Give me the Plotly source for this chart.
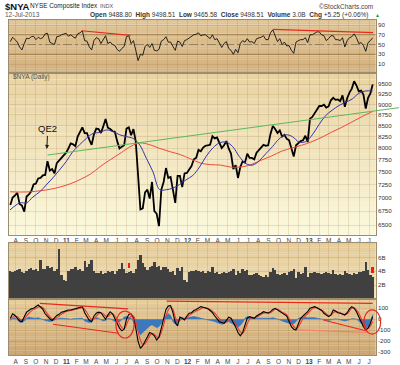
import numpy as np
import pandas as pd
import plotly.graph_objects as go

W, H = 400, 365

# ---------------- data (weekly samples) ----------------
weeks = pd.date_range('2010-07-16', '2013-07-12', freq='W-FRI')

close = [
    6860, 7000, 7040, 7090, 6880, 6850, 6740, 7020, 7060, 7120, 7250, 7270, 7370, 7380, 7430, 7440,
    7720, 7530, 7560, 7470, 7680, 7740, 7800, 7850, 7900,
    7990, 8100, 8080, 8040, 8250, 8350, 8460, 8330, 8330, 8180, 8070, 8300, 8430, 8420, 8330, 8480, 8650,
    8450, 8420, 8370, 8360, 8150, 7990, 8030, 8060, 8430, 8460, 8280, 8420, 8140, 7350, 6780, 6800, 7100,
    7150, 6980, 7300, 6750, 6700, 6480, 7150, 7300, 7580, 7380, 7400, 7120, 6900, 7420, 7420, 7200, 7470, 7480,
    7560, 7620, 7760, 7790, 7960, 7930, 8010, 8050, 8060, 8070, 8260, 8210, 8230, 8120, 8000, 8060, 8150,
    7990, 7880, 7560, 7640, 7380, 7600, 7720, 7690, 7880, 7790, 7790, 7760, 7900, 7960, 8010, 8070, 8050, 8060,
    8310, 8490, 8420, 8330, 8390, 8250, 8290, 8200, 8170, 7960, 7820, 8060, 8110, 8150, 8170, 8270, 8130,
    8660, 8700, 8790, 8880, 8960, 8960, 8990, 8920, 8950, 9100, 9160, 9110, 9120, 9080, 9220, 8940, 9150,
    9290, 9390, 9580, 9470, 9320, 9340, 9240, 8900, 9160, 9270, 9498.51,
]

ma50_dates = ['2010-07-15', '2010-08-14', '2010-09-03', '2010-09-22', '2010-10-13', '2010-11-01', '2010-11-21',
              '2010-12-11', '2010-12-31', '2011-01-20', '2011-02-09', '2011-03-02', '2011-03-22', '2011-04-12',
              '2011-05-02', '2011-05-22', '2011-06-11', '2011-07-01', '2011-07-21', '2011-08-10', '2011-08-30',
              '2011-09-19', '2011-10-09', '2011-10-29', '2011-11-18', '2011-12-08', '2011-12-28', '2012-01-17',
              '2012-02-06', '2012-02-26', '2012-03-17', '2012-04-06', '2012-04-26', '2012-05-16', '2012-06-05',
              '2012-06-25', '2012-07-15', '2012-08-04', '2012-08-24', '2012-09-13', '2012-10-03', '2012-10-23',
              '2012-11-12', '2012-12-02', '2012-12-22', '2013-01-11', '2013-01-31', '2013-02-20', '2013-03-12',
              '2013-04-01', '2013-04-21', '2013-05-11', '2013-05-31', '2013-06-20', '2013-07-12']
ma50 = [6770, 6900, 6900, 7010, 7110, 7240, 7380, 7540, 7710, 7920, 8065, 8210, 8320, 8345, 8400, 8360,
        8290, 8250, 8210, 8065, 7780, 7500, 7150, 7150, 7180, 7250, 7345, 7430, 7600, 7820, 8000, 8110,
        8130, 8030, 7820, 7670, 7640, 7730, 7880, 8030, 8200, 8290, 8250, 8130, 8140, 8290, 8520, 8730,
        8860, 8970, 9050, 9130, 9270, 9330, 9330]

ma200_dates = ['2010-07-15', '2010-08-15', '2010-09-15', '2010-10-15', '2010-11-15', '2010-12-15', '2011-01-15',
               '2011-02-15', '2011-03-15', '2011-04-15', '2011-05-15', '2011-06-15', '2011-07-15', '2011-08-10',
               '2011-09-10', '2011-10-10', '2011-11-10', '2011-12-10', '2012-01-10', '2012-02-10', '2012-03-10',
               '2012-04-10', '2012-05-10', '2012-06-10', '2012-07-10', '2012-08-10', '2012-09-10', '2012-10-10',
               '2012-11-10', '2012-12-10', '2013-01-10', '2013-02-10', '2013-03-10', '2013-04-10', '2013-05-10',
               '2013-06-10', '2013-07-12']
ma200 = [7110, 7105, 7110, 7130, 7160, 7205, 7270, 7360, 7460, 7620, 7760, 7900, 8040, 8110, 8070, 7990,
         7920, 7860, 7770, 7680, 7650, 7640, 7600, 7600, 7650, 7740, 7830, 7930, 8000, 8060, 8140, 8240,
         8350, 8460, 8580, 8710, 8830]

trend_dates = ['2010-11-05', '2013-09-29']
trend_vals = [7850, 8920]

rsi = [
    56, 65, 60, 55, 45, 39, 52, 63, 62, 66, 67, 60, 65, 62, 64, 72, 73, 55, 52, 50, 66, 67, 70, 71, 73,
    67, 70, 66, 63, 72, 74, 78, 58, 57, 45, 39, 58, 64, 62, 52, 60, 68, 52, 55, 50, 48, 40, 36, 42, 46,
    66, 68, 52, 58, 38, 17, 30, 28, 46, 50, 44, 52, 38, 37, 40, 57, 60, 66, 55, 55, 46, 38, 57, 55, 46, 58, 60,
    64, 66, 70, 71, 74, 68, 70, 70, 66, 62, 70, 60, 62, 52, 44, 52, 56, 42, 38, 30, 40, 33, 52, 58, 55,
    62, 55, 56, 52, 62, 63, 65, 68, 60, 60, 74, 80, 66, 56, 62, 50, 55, 47, 48, 38, 32, 55, 58, 60, 60, 64, 54,
    70, 70, 73, 76, 76, 70, 68, 58, 62, 68, 68, 60, 60, 58, 64, 45, 58, 64, 66, 72, 64, 52, 54, 48, 36, 54, 58, 64,
]
rsi_levels = [70, 50, 30]
rsi_trend1_dates = ['2011-02-16', '2011-07-13']
rsi_trend1_vals = [78.3, 68.9]
rsi_trend2_dates = ['2012-09-14', '2013-07-13']
rsi_trend2_vals = [81.2, 74.2]

volume_b = [
    4.1, 3.9, 4.0, 4.2, 4.4, 3.9, 3.8, 4.1, 4.3, 4.5, 4.2, 4.3, 4.0, 5.6, 4.3, 4.4, 4.8, 4.5, 4.6, 4.0,
    4.4, 7.2, 3.4, 2.8, 2.6,
    4.0, 4.3, 4.4, 4.6, 4.2, 4.3, 4.0, 5.5, 4.6, 5.0, 5.6, 4.0, 3.8, 3.8, 4.0, 3.6, 3.7, 4.0, 3.9, 4.1,
    3.6, 4.1, 4.4, 5.2, 4.3, 3.8, 3.9, 4.0, 3.8, 4.3, 5.6, 6.4, 5.2, 4.6, 4.2, 4.6, 4.8, 5.3, 4.7, 4.8,
    4.2, 4.7, 4.6, 4.3, 3.9, 4.0, 3.4, 4.5, 4.0, 4.6, 2.8, 2.5,
    3.9, 4.0, 4.0, 4.2, 4.1, 3.9, 4.0, 3.8, 4.0, 3.9, 4.6, 3.7, 3.9, 3.6, 3.8, 3.9, 3.7, 3.9, 4.0, 4.4,
    3.5, 4.0, 3.7, 4.3, 4.1, 4.2, 3.4, 3.5, 3.6, 3.8, 3.5, 3.3, 3.2, 3.4, 3.2, 3.9, 4.5, 4.2, 3.6, 3.5,
    3.6, 3.8, 3.5, 3.9, 4.1, 4.3, 3.0, 3.9, 3.6, 3.8, 4.6, 3.1,
    3.8, 3.7, 3.9, 3.8, 3.7, 3.6, 3.8, 3.9, 3.8, 3.6, 4.2, 3.6, 3.5, 3.6, 3.5, 4.0, 3.7, 3.6, 3.5, 3.8,
    3.6, 3.9, 3.9, 4.0, 5.3, 4.2, 3.5, 3.2,
]
vol_mark_dates = ['2011-07-08', '2013-07-12']
vol_mark_low = [4.5, 3.75]
vol_mark_high = [5.2, 4.6]

osc = [
    10, 50, 35, 10, -15, -20, 30, 65, 80, 95, 100, 115, 130, 110, 90, 50, 25, 5, -10, 10, 35, 45, 65, 70, 80,
    85, 85, 90, 95, 100, 110, 115, 60, 20, -10, -22, 30, 55, 65, 60, 30, 0, 40, 69, 50, 10, -30, -80, -105,
    -90, 0, 45, 50, 10, -80, -200, -264, -240, -200, -160, -120, -130, -150, -188, -160, -80, 10, 90, 120,
    125, 60, -30, -60, 20, 10, -5, 30,
    55, 60, 80, 90, 100, 115, 110, 105, 95, 80, 60, 30, 0, -22, -30, -36, -10, 20, 10, -25, -70, -120, -150,
    -120, -60, 10, 24, 15, 9, 30, 40, 55, 69, 65, 55, 70, 90, 100, 85, 70, 55, 45, 30, -20, -67, -90, -97,
    -40, 9, 30, 50, 70,
    100, 110, 115, 105, 90, 80, 55, 39, 24, 40, 85, 75, 60, 55, 45, 39, 60, 95, 115, 100, 69, 30, -22, -67,
    -97, -80, -36, 24,
]
osc_signal = [
    0, 20, 30, 25, 5, -10, 0, 30, 55, 75, 90,
    100, 110, 115, 105, 80, 50, 25, 5, 0, 15, 30, 45, 60, 70,
    75, 80, 85, 90, 95, 100, 105, 90, 60, 25, 0, 5,
    30, 50, 60, 50, 30, 25, 45, 50, 30, 0, -40, -75, -85, -50, 0, 30, 30, -20,
    -110, -190, -230, -220, -190, -150, -130, -135, -160, -165, -120, -50,
    30, 85, 110, 90, 20, -20, -10, 5, 5, 15,
    35, 50, 65, 75, 85, 95, 105, 105, 100, 90, 75, 55, 30,
    5, -15, -25, -25, -5, 5, -10, -40, -80, -115, -125, -95,
    -40, 0, 15, 15, 20, 30, 45, 55, 60, 60,
    60, 75, 90, 90, 80, 65, 55, 40, 10, -30, -65, -85, -70,
    -30, 5, 30, 50, 75, 95, 105, 105, 95, 85, 70, 50, 35, 35, 60, 70,
    65, 60, 50, 45, 50, 75, 100, 105, 85, 55, 10, -35, -70, -80, -60, -20,
]
osc_hist = [
    -10, 10, 15, -5, -25, -30, -15, 10, 20, 15, 10, 10, 15, 5, -5, -10, -15, -20, -15, -5, 5, 10, 10, 5, 5,
    5, 0, 5, 5, 5, 10, 10, -15, -25, -30, -25, 5, 15, 10, -5, -15, -10, 5, 5, -10, -20, -25, -20, -5, 20, 25, 15,
    10, -20, -50, -100, -140, -120, -100, -75, -60, -50, -60, -75, -65, -35, 10, 35, 50, 35, -20, -45, -35, 10, 15, 10, 15,
    20, 20, 25, 20, 15, 15, 10, 5, 0, -5, -10, -20, -30, -40, -45, -40, -25, -20, -30, -45, -60, -70, -55, -30, 10,
    25, 20, 10, 5, 10, 10, 10, 10, 5, 5, 10, 15, 10, 0, -5, -15, -20, -25, -35, -45, -40, -20, 10, 15, 15, 15, 20,
    20, 20, 15, 10, 5, 0, -5, -10, -10, -5, 0, 5, 0, -5, -10, -15, -10, 0, 5, 5, 0, -15, -35, -55, -80, -60, -20, 45,
]
# user-drawn lines in the lower panel: (date0, date1, val0, val1, colour)
osc_lines = [
    ('2010-10-13', '2011-07-06', 145, 94, '#e8291f'),
    ('2010-11-22', '2011-06-06', -45, -127, '#e8291f'),
    ('2011-10-30', '2013-07-12', 166, 145, '#e8291f'),
    ('2013-02-13', '2013-06-24', -6, -106, '#e8291f'),
    ('2012-11-25', '2013-06-24', -97, -118, '#f08070'),
]
osc_ellipses = [
    ('2011-05-30', '2011-07-24', 75, -170),
    ('2013-06-15', '2013-08-05', 85, -134),
]

qe2_date, qe2_price = '2010-11-03', 7980

price_ticks = [6500, 6750, 7000, 7250, 7500, 7750, 8000, 8250, 8500, 8750, 9000, 9250, 9500]
rsi_ticks = [10, 30, 50, 70, 90]
vol_ticks = [2, 4, 6]
vol_ticktext = ['2B', '4B', '6B']
osc_ticks = [-300, -200, -100, 0, 100]
month_starts = pd.date_range('2010-08-01', '2013-07-01', freq='MS')
month_labels = ['A', 'S', 'O', 'N', 'D',
                '<b>11</b>', 'F', 'M', 'A', 'M', 'J', 'J', 'A', 'S', 'O', 'N', 'D',
                '<b>12</b>', 'F', 'M', 'A', 'M', 'J', 'J', 'A', 'S', 'O', 'N', 'D',
                '<b>13</b>', 'F', 'M', 'A', 'M', 'J', 'J']

for arr in (close, rsi, volume_b, osc, osc_signal, osc_hist):
    assert len(arr) == len(weeks), len(arr)

# ---------------- geometry ----------------
X0, X1 = pd.Timestamp('2010-07-12'), pd.Timestamp('2013-07-21')
PX_L, PX_R = 9.0, 375.7
X1E = X0 + (X1 - X0) * (400 - PX_L) / (PX_R - PX_L)


def fy(py):
    return 1 - py / H


def paper_x(d):
    d = pd.Timestamp(d)
    return (PX_L + (d - X0) / (X1 - X0) * (PX_R - PX_L)) / W


RSI_T, RSI_B = 20.0, 72.7
PR_T, PR_B = 72.7, 234.5
VO_T, VO_B = 243.0, 299.0
OS_T, OS_B = 299.0, 355.0
xdom = [PX_L / W, PX_R / W]

price_range = [np.log10(6336), np.log10(9802)]

FONT = 'Liberation Sans, Arial, sans-serif'
BORDER = '#9c8c70'
GRID = 'rgba(140,100,50,0.16)'

fig = go.Figure()

# RSI panel
fig.add_trace(go.Scatter(x=weeks, y=rsi, mode='lines', line=dict(color='#111', width=0.9),
                         xaxis='x', yaxis='y', hoverinfo='skip'))
for d, v in ((rsi_trend1_dates, rsi_trend1_vals), (rsi_trend2_dates, rsi_trend2_vals)):
    fig.add_trace(go.Scatter(x=d, y=v, mode='lines', line=dict(color='#e8291f', width=1.2),
                             xaxis='x', yaxis='y', hoverinfo='skip'))

# price panel
fig.add_trace(go.Scatter(x=weeks, y=close, mode='lines', line=dict(color='#000', width=1.8),
                         xaxis='x2', yaxis='y2', hoverinfo='skip'))
fig.add_trace(go.Scatter(x=ma200_dates, y=ma200, mode='lines', line=dict(color='#f04a40', width=1, shape='spline'),
                         xaxis='x2', yaxis='y2', hoverinfo='skip'))
fig.add_trace(go.Scatter(x=ma50_dates, y=ma50, mode='lines', line=dict(color='#3535a8', width=1, shape='spline'),
                         xaxis='x2', yaxis='y2', hoverinfo='skip'))
fig.add_trace(go.Scatter(x=trend_dates, y=trend_vals, mode='lines', line=dict(color='#5cb85c', width=1),
                         xaxis='x5', yaxis='y5', hoverinfo='skip'))

# volume panel
fig.add_trace(go.Bar(x=weeks, y=volume_b, marker=dict(color='#404040', line=dict(width=0)),
                     xaxis='x3', yaxis='y3', hoverinfo='skip'))
fig.add_trace(go.Bar(x=vol_mark_dates, y=[h - l for h, l in zip(vol_mark_high, vol_mark_low)], base=vol_mark_low,
                     width=[6 * 86400000] * len(vol_mark_dates),
                     marker=dict(color='#ee1c1c', line=dict(width=0)), xaxis='x3', yaxis='y3', hoverinfo='skip'))

# oscillator panel
fig.add_trace(go.Scatter(x=weeks, y=osc_hist, mode='lines', fill='tozeroy', fillcolor='#3b78bd',
                         line=dict(color='#2f6db5', width=0.6), xaxis='x4', yaxis='y4', hoverinfo='skip'))
fig.add_trace(go.Scatter(x=weeks, y=osc_signal, mode='lines', line=dict(color='#ea3b30', width=1.1, shape='spline'),
                         xaxis='x4', yaxis='y4', hoverinfo='skip'))
fig.add_trace(go.Scatter(x=weeks, y=osc, mode='lines', line=dict(color='#000', width=1.1),
                         xaxis='x4', yaxis='y4', hoverinfo='skip'))

shapes = []


def gradient(y_top, y_bot, c_top, c_bot, n=24):
    for i in range(n):
        t = i / (n - 1)
        c = tuple(int(round(a + (b - a) * t)) for a, b in zip(c_top, c_bot))
        y0 = y_top + (y_bot - y_top) * i / n
        y1 = y_top + (y_bot - y_top) * (i + 1) / n
        shapes.append(dict(type='rect', xref='paper', yref='paper', x0=xdom[0], x1=xdom[1],
                           y0=fy(y1) - 0.0005, y1=fy(y0), fillcolor='rgb(%d,%d,%d)' % c,
                           line=dict(width=0), layer='below'))


gradient(RSI_T, RSI_B, (224, 196, 148), (212, 178, 128))
gradient(PR_T, PR_B, (233, 211, 163), (251, 248, 220))
gradient(VO_T, VO_B, (229, 203, 152), (238, 222, 182))
gradient(OS_T, OS_B, (229, 204, 153), (205, 166, 114))

for lv in rsi_levels:
    shapes.append(dict(type='line', xref='x', yref='y', x0=X0, x1=X1, y0=lv, y1=lv,
                       line=dict(color='rgba(110,80,40,0.55)' if lv != 50 else 'rgba(110,90,60,0.6)',
                                 width=1, dash='solid' if lv != 50 else 'dashdot'), layer='below'))

for d0, d1, v0, v1, col in osc_lines:
    shapes.append(dict(type='line', xref='x4', yref='y4', x0=d0, x1=d1, y0=v0, y1=v1,
                       line=dict(color=col, width=1.2)))
for d0, d1, v0, v1 in osc_ellipses:
    shapes.append(dict(type='circle', xref='paper', yref='y4', x0=paper_x(d0), x1=paper_x(d1), y0=v0, y1=v1,
                       line=dict(color='#e8291f', width=1.2)))

annotations = [
    dict(text='<b>$NYA</b>', x=3 / W, y=fy(6.5), xref='paper', yref='paper', xanchor='left', yanchor='middle',
         showarrow=False, font=dict(family=FONT, size=9.5, color='#111')),
    dict(text='NYSE Composite Index', x=28 / W, y=fy(6.5), xref='paper', yref='paper', xanchor='left',
         yanchor='middle', showarrow=False, font=dict(family=FONT, size=6.4, color='#222')),
    dict(text='INDX', x=98 / W, y=fy(6.5), xref='paper', yref='paper', xanchor='left', yanchor='middle',
         showarrow=False, font=dict(family=FONT, size=5.5, color='#555')),
    dict(text='©StockCharts.com', x=375 / W, y=fy(6), xref='paper', yref='paper', xanchor='right',
         yanchor='middle', showarrow=False, font=dict(family=FONT, size=6.5, color='#444')),
    dict(text='12-Jul-2013', x=3 / W, y=fy(14.5), xref='paper', yref='paper', xanchor='left', yanchor='middle',
         showarrow=False, font=dict(family=FONT, size=6.5, color='#555')),
    dict(text='<b>Open</b> 9488.80  <b>High</b> 9498.51  <b>Low</b> 9465.58  <b>Close</b> 9498.51  '
              '<b>Volume</b> 3.0B  <b>Chg</b> +5.25 (+0.06%)',
         x=371 / W, y=fy(14.5), xref='paper', yref='paper', xanchor='right', yanchor='middle',
         showarrow=False, font=dict(family=FONT, size=6.5, color='#333')),
    dict(text='▲', x=373 / W, y=fy(14.5), xref='paper', yref='paper', xanchor='left', yanchor='middle',
         showarrow=False, font=dict(family=FONT, size=5, color='#2a9a2a')),
    dict(text='$NYA (Daily)', x=11 / W, y=fy(77.5), xref='paper', yref='paper', xanchor='left',
         yanchor='middle', showarrow=False, font=dict(family=FONT, size=6.5, color='#555')),
    dict(text='QE2', x=qe2_date, y=np.log10(qe2_price), xref='x2', yref='y2', showarrow=True,
         arrowhead=2, arrowsize=0.8, arrowwidth=1, arrowcolor='#222', ax=1, ay=-20,
         font=dict(family=FONT, size=9.5, color='#111')),
]


def xax(anchor, show_labels, **kw):
    d = dict(type='date', range=[X0, X1], domain=xdom, anchor=anchor, showgrid=True, gridcolor=GRID,
             gridwidth=1, tickvals=month_starts, ticktext=month_labels, ticks='', showline=True,
             linecolor=BORDER, linewidth=1, mirror=True, zeroline=False, showticklabels=show_labels,
             tickfont=dict(family=FONT, size=6.5, color='#444'), fixedrange=True)
    d.update(kw)
    return d


def yax(anchor, dom, rng, tickvals, ticktext=None, **kw):
    d = dict(domain=dom, anchor=anchor, side='right', range=rng, tickvals=tickvals,
             ticktext=ticktext if ticktext else [str(t) for t in tickvals], showgrid=True, gridcolor=GRID,
             gridwidth=1, ticks='', showline=True, linecolor=BORDER, linewidth=1, mirror=True,
             zeroline=False, tickfont=dict(family=FONT, size=6.2, color='#333'), fixedrange=True)
    d.update(kw)
    return d


fig.update_layout(
    width=W, height=H, margin=dict(l=0, r=0, t=0, b=0),
    paper_bgcolor='#ffffff', plot_bgcolor='rgba(0,0,0,0)',
    showlegend=False, barmode='overlay', bargap=0,
    xaxis=xax('y', False),
    xaxis2=xax('y2', True),
    xaxis3=xax('y3', False),
    xaxis4=xax('y4', True),
    xaxis5=dict(type='date', range=[X0, X1E], domain=[PX_L / W, 1.0], anchor='y5', visible=False,
                fixedrange=True),
    yaxis=yax('x', [fy(RSI_B), fy(RSI_T)], [-7.8, 100.3], rsi_ticks),
    yaxis2=yax('x2', [fy(PR_B), fy(PR_T)], price_range, price_ticks, type='log'),
    yaxis3=yax('x3', [fy(VO_B), fy(VO_T)], [-0.04, 8.13], vol_ticks, vol_ticktext),
    yaxis4=yax('x4', [fy(OS_B), fy(OS_T)], [-324.5, 184.5], osc_ticks),
    yaxis5=dict(type='log', range=price_range, domain=[fy(PR_B), fy(PR_T)], anchor='x5', visible=False,
                fixedrange=True),
    shapes=shapes,
    annotations=annotations,
)

fig.write_html('out.html', config={'displayModeBar': False},
               post_script="document.body.style.margin='0px';document.body.style.overflow='hidden';")
